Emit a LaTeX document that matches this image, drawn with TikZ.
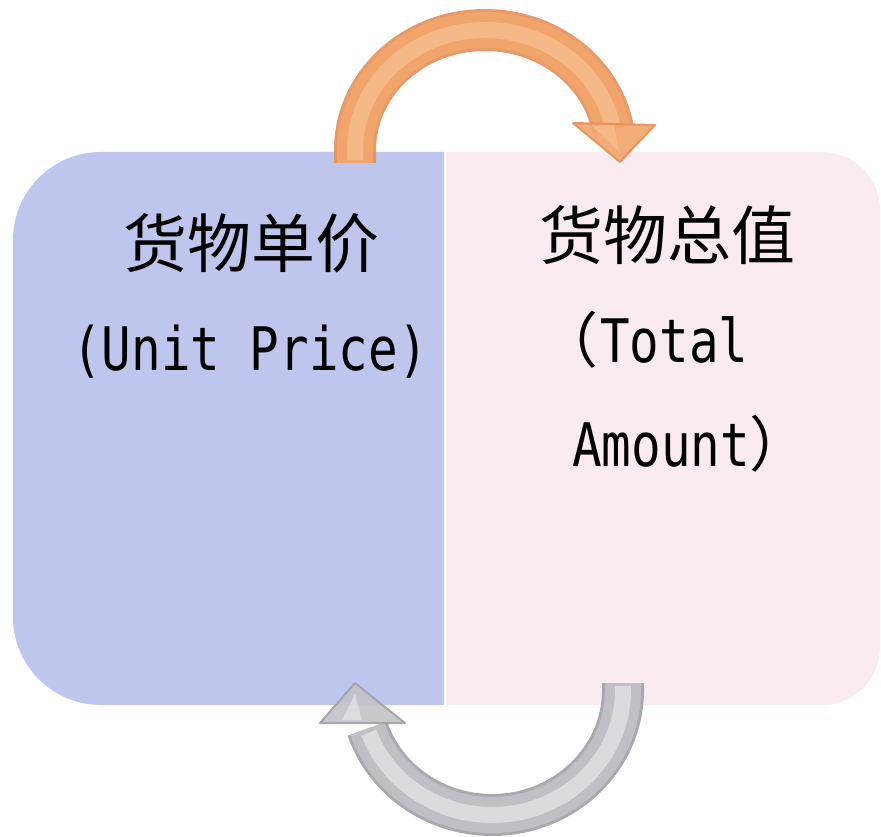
\documentclass[tikz,border=0pt]{standalone}
\usepackage{fontspec}
\newfontfamily\cjk{Noto Sans CJK SC}
\newfontfamily\lat[FakeStretch=0.82]{DejaVu Sans Mono}
\definecolor{boxblue}{HTML}{BFC6EE}
\definecolor{boxpink}{HTML}{FAEAF2}
\definecolor{orD}{HTML}{E5915A}
\definecolor{orM}{HTML}{F2A66C}
\definecolor{orL}{HTML}{F6BA8A}
\definecolor{grD}{HTML}{A2A2A8}
\definecolor{grM}{HTML}{C2C2C8}
\definecolor{grL}{HTML}{DDDDE2}
\tikzset{
  cjktext/.style={inner sep=0pt, font=\cjk\fontsize{64}{64}\selectfont},
  lattext/.style={inner sep=0pt, font=\lat\fontsize{60}{60}\selectfont},
  bandouter/.style={line width=42pt, line cap=butt},
  bandmid/.style={line width=36pt, line cap=butt},
  bandhi/.style={line width=16pt, line cap=butt},
}
\begin{document}
\begin{tikzpicture}[x=1pt,y=-1pt]
\useasboundingbox (0,0) rectangle (881,837);
% boxes
\fill[boxblue] (444,152) -- (101,152) arc[start angle=-90, end angle=-180, radius=88]
  -- (13,617) arc[start angle=180, end angle=90, radius=88] -- (444,705) -- cycle;
\fill[boxpink] (446,152) -- (822,152) arc[start angle=-90, end angle=0, radius=58]
  -- (880,647) arc[start angle=0, end angle=90, radius=58] -- (446,705) -- cycle;
% texts
\node[cjktext, anchor=base] (up) at (251,268) {货物单价};
\node[lattext, anchor=base] (upen) at (250,370) {(Unit Price)};
\node[cjktext, anchor=base] (tv) at (667,260) {货物总值};
\node[lattext, anchor=base west] (tven1) at (538,362) {{\cjk\fontsize{60}{60}\selectfont （}\hspace{2pt}Total};
\node[lattext, anchor=base west] (tven2) at (572,466) {Amount{\cjk\fontsize{60}{60}\selectfont ）}};
% top orange arrow
\begin{scope}[opacity=0.92]
\draw[bandouter, orD] (355,163) -- (355,150) arc[start angle=-180, end angle=-10, x radius=130, y radius=120];
\draw[bandmid, orM] (355,163) -- (355,150) arc[start angle=-180, end angle=-10, x radius=130, y radius=120];
\draw[bandhi, orL] (355,160) -- (355,150) arc[start angle=-180, end angle=-12, x radius=130, y radius=120];
\filldraw[fill=orM, draw=orD, line width=2pt, line join=round] (573,123) -- (655,125) -- (620,162) -- cycle;
\fill[orL] (592,126) -- (614,125) -- (619,152) -- cycle;
\end{scope}
% bottom gray arrow
\begin{scope}[opacity=0.92]
\draw[bandouter, grD] (623,683) -- (623,690) arc[start angle=0, end angle=162, x radius=131, y radius=125];
\draw[bandmid, grM] (623,683) -- (623,690) arc[start angle=0, end angle=162, x radius=131, y radius=125];
\draw[bandhi, grL] (623,686) -- (623,690) arc[start angle=0, end angle=160, x radius=131, y radius=125];
\filldraw[fill=grM, draw=grD, line width=2pt, line join=round] (320,723) -- (405,723) -- (355,683) -- cycle;
\fill[grL] (342,720) -- (362,720) -- (355,694) -- cycle;
\end{scope}
\end{tikzpicture}
\end{document}
